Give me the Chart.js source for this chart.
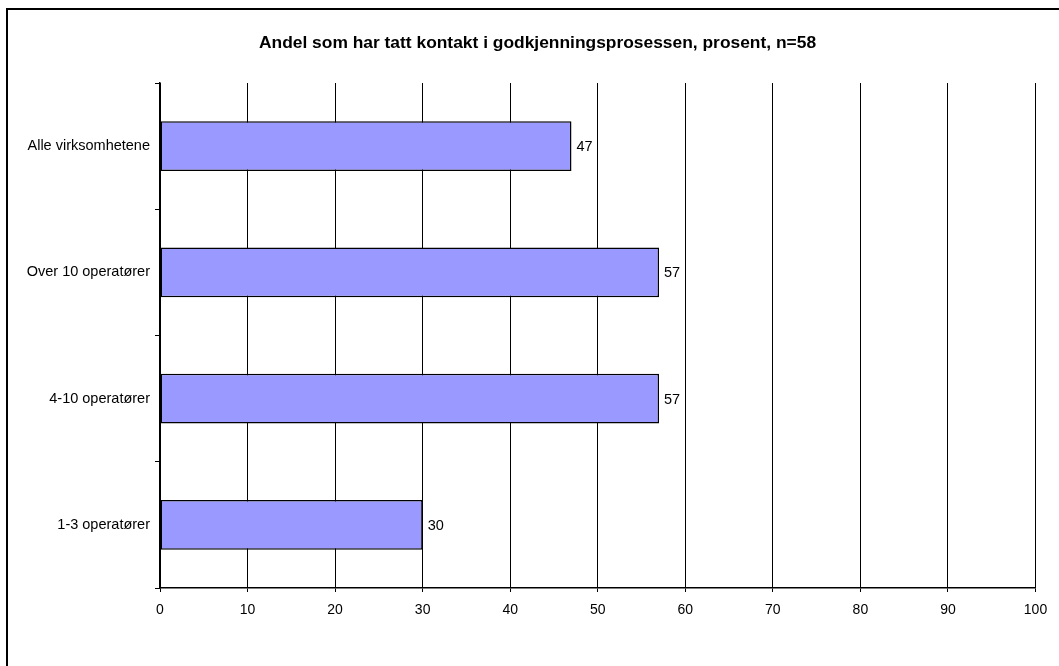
<!DOCTYPE html>
<html>
<head>
<meta charset="utf-8">
<script src="https://cdn.jsdelivr.net/npm/chart.js@4"></script>
<style>
  html, body { margin: 0; padding: 0; background: #fff; }
  #wrap { width: 1059px; height: 666px; }
</style>
</head>
<body>
<div id="wrap"><canvas id="chart" width="1059" height="666"></canvas></div>
<script>
// data
var categories = ['Alle virksomhetene', 'Over 10 operatører', '4-10 operatører', '1-3 operatører'];
var values = [47, 57, 57, 30];
var xTicks = [0, 10, 20, 30, 40, 50, 60, 70, 80, 90, 100];
var title = 'Andel som har tatt kontakt i godkjenningsprosessen, prosent, n=58';

var FONT = 'Arial, "Liberation Sans", sans-serif';

// frame round the whole picture (only top and left are inside the window) + title
var frame = {
   id: 'frame',
   beforeDraw: function (chart) {
      var ctx = chart.ctx;
      ctx.save();
      ctx.fillStyle = '#fff';
      ctx.fillRect(0, 0, chart.width, chart.height);
      ctx.strokeStyle = '#000';
      ctx.lineWidth = 2;
      ctx.strokeRect(7, 9, chart.width + 20, chart.height + 20);
      ctx.fillStyle = '#000';
      ctx.font = 'bold 17.4px ' + FONT;
      ctx.textAlign = 'center';
      ctx.textBaseline = 'alphabetic';
      ctx.fillText(title, 537.5, 48);
      ctx.restore();
   },
};

// value labels right of each bar
var valueLabels = {
   id: 'valueLabels',
   afterDatasetsDraw: function (chart) {
      var ctx = chart.ctx;
      var meta = chart.getDatasetMeta(0);
      ctx.save();
      ctx.font = '14.5px ' + FONT;
      ctx.fillStyle = '#000';
      ctx.textAlign = 'left';
      ctx.textBaseline = 'middle';
      meta.data.forEach(function (bar, i) {
         ctx.fillText(values[i], bar.x + 5, bar.y + 1);
      });
      ctx.restore();
   },
};

new Chart('chart', {
   type: 'bar',
   data: {
      labels: categories,
      datasets: [
         {
            data: values,
            backgroundColor: '#9999ff',
            borderColor: '#000',
            borderWidth: 1.5,
            borderSkipped: false,
            barPercentage: 0.396,
            categoryPercentage: 1,
         },
      ],
   },
   options: {
      indexAxis: 'y',
      responsive: false,
      animation: false,
      layout: { padding: { left: 0, right: 23.5, top: 83, bottom: 0 } },
      plugins: {
         legend: { display: false },
         tooltip: { enabled: false },
         title: { display: false },
      },
      scales: {
         x: {
            min: 0,
            max: 100,
            afterBuildTicks: function (scale) {
               scale.ticks = xTicks.map(function (v) { return { value: v }; });
            },
            afterFit: function (scale) { scale.height = 78; },
            grid: {
               color: '#000',
               lineWidth: 1,
               drawTicks: true,
               tickLength: 4,
               tickColor: '#000',
            },
            border: { display: true, color: '#000', width: 1.5 },
            ticks: {
               color: '#000',
               padding: 10,
               font: { family: FONT, size: 14 },
               maxRotation: 0,
            },
         },
         y: {
            offset: true,
            afterFit: function (scale) { scale.width = 160; },
            grid: {
               offset: true,
               drawOnChartArea: false,
               drawTicks: true,
               tickLength: 5,
               color: '#000',
            },
            border: { display: true, color: '#000', width: 1.5 },
            ticks: {
               color: '#000',
               padding: 5,
               font: { family: FONT, size: 14.5 },
            },
         },
      },
   },
   plugins: [frame, valueLabels],
});
</script>
</body>
</html>
